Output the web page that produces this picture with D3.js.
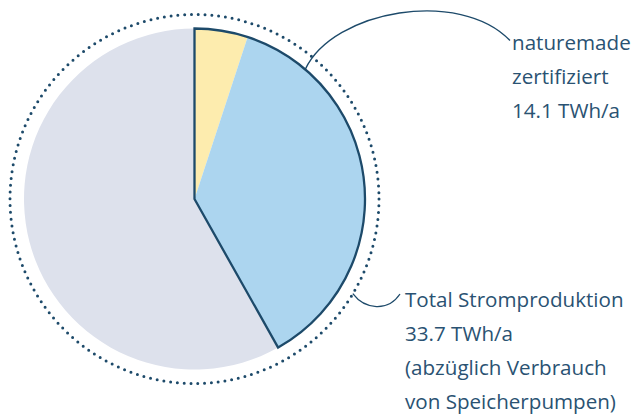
<!DOCTYPE html>
<html><head><meta charset="utf-8">
<script src="https://cdn.jsdelivr.net/npm/d3@7"></script>
<style>body{margin:0;background:#fff}svg{display:block}</style>
</head><body>
<svg id="c" width="633" height="417"></svg>
<script>
// Data (TWh/a)
const categories = ["naturemade star", "naturemade basic", "übrige Produktion"];
const values = [1.7, 12.4, 19.6];
const colors = ["#fdecae", "#acd5ef", "#dde1ec"];
const certifiedLabel = ["naturemade", "zertifiziert", "14.1 TWh/a"];
const totalLabel = ["Total Stromproduktion", "33.7 TWh/a", "(abzüglich Verbrauch", "von Speicherpumpen)"];

const navy = "#1d4a6a", textCol = "#2a5272";
const cx = 194.5, cy = 199, R = 170.5, Rdot = 184.5;
const svg = d3.select("#c");
const g = svg.append("g").attr("transform", `translate(${cx},${cy})`);

const pie = d3.pie().sort(null).value(d => d);
const arcs = pie(values);
const arc = d3.arc().innerRadius(0).outerRadius(R);

g.selectAll("path.slice").data(arcs).join("path")
  .attr("class", "slice").attr("d", arc).attr("fill", (d, i) => colors[i]);

// outline of the certified group (first two slices)
const certEnd = arcs[1].endAngle;
g.append("path")
  .attr("d", arc({startAngle: 0, endAngle: certEnd}))
  .attr("fill", "none").attr("stroke", navy).attr("stroke-width", 2.3).attr("stroke-linejoin", "miter");

// dotted circle
g.append("circle").attr("r", Rdot).attr("fill", "none")
  .attr("stroke", navy).attr("stroke-width", 3).attr("stroke-linecap", "round")
  .attr("stroke-dasharray", `0 ${2 * Math.PI * Rdot / 170}`);

// leader 1: from pie edge to certified label
const a1 = 0.707;
const p1 = [cx + R * Math.sin(a1), cy - R * Math.cos(a1)];
svg.append("path")
  .attr("d", `M${p1[0]},${p1[1]} C${p1[0] + 28},${10} ${460},${-12} ${510},${40.5}`)
  .attr("fill", "none").attr("stroke", navy).attr("stroke-width", 1.3);

// leader 2: from dotted circle to total label
const a2 = 2.11;
const p2 = [cx + Rdot * Math.sin(a2), cy - Rdot * Math.cos(a2)];
svg.append("path")
  .attr("d", `M${p2[0]},${p2[1]} C${p2[0] + 12},${p2[1] + 16} ${388},${312} ${400},${294}`)
  .attr("fill", "none").attr("stroke", navy).attr("stroke-width", 1.3);

const font = "'Open Sans', sans-serif";
const fs = 20.6;
svg.append("g").selectAll("text").data(certifiedLabel).join("text")
  .attr("x", 512).attr("y", (d, i) => 50 + i * 34)
  .attr("font-family", font).attr("font-size", fs).attr("fill", textCol).text(d => d);
svg.append("g").selectAll("text").data(totalLabel).join("text")
  .attr("x", 405).attr("y", (d, i) => 307 + i * 34)
  .attr("font-family", font).attr("font-size", fs).attr("fill", textCol).text(d => d);
</script>
</body></html>
